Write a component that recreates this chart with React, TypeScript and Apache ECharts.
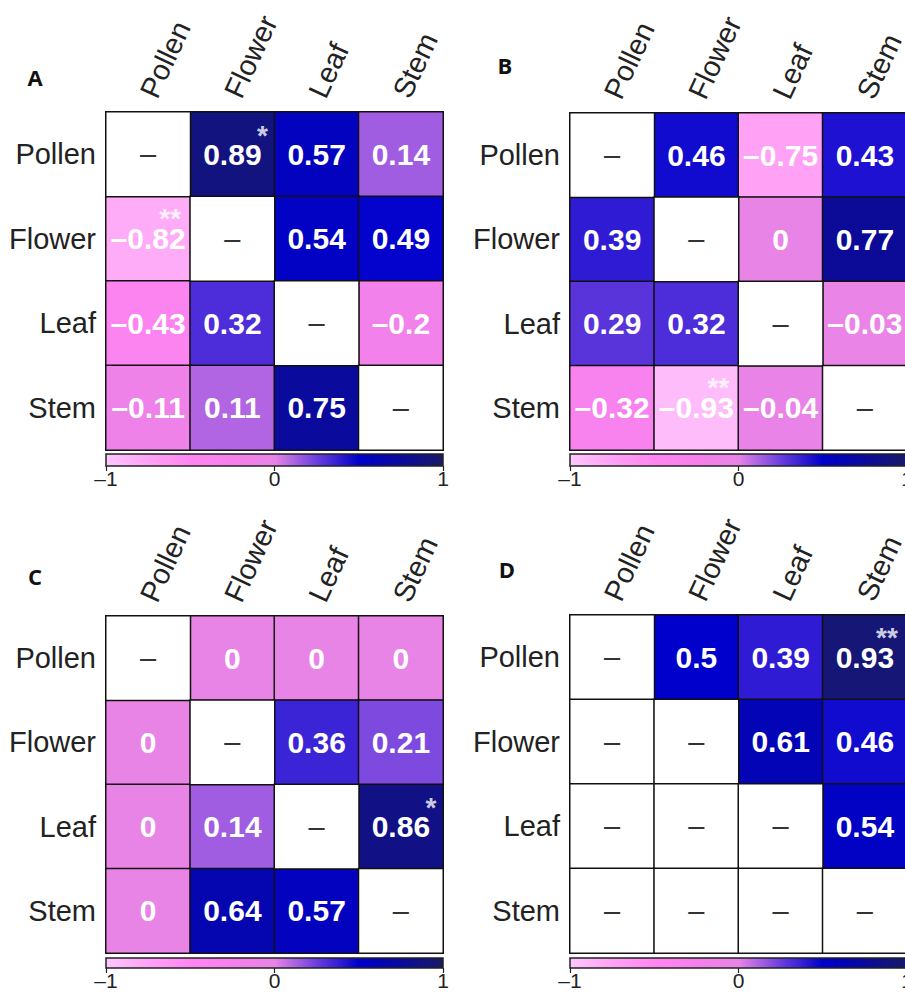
import React, { useEffect, useRef } from "react";
import * as echarts from "echarts";

// Tissues on both axes of every correlation matrix
const TISSUES = ["Pollen", "Flower", "Leaf", "Stem"];

// Correlation matrices, rows = TISSUES (top to bottom), cols = TISSUES (left to right)
// null marks a cell without a coefficient (drawn as a dash)
const VALUES_A = [
  [null, 0.89, 0.57, 0.14],
  [-0.82, null, 0.54, 0.49],
  [-0.43, 0.32, null, -0.2],
  [-0.11, 0.11, 0.75, null],
];
const VALUES_B = [
  [null, 0.46, -0.75, 0.43],
  [0.39, null, 0, 0.77],
  [0.29, 0.32, null, -0.03],
  [-0.32, -0.93, -0.04, null],
];
const VALUES_C = [
  [null, 0, 0, 0],
  [0, null, 0.36, 0.21],
  [0, 0.14, null, 0.86],
  [0, 0.64, 0.57, null],
];
const VALUES_D = [
  [null, 0.5, 0.39, 0.93],
  [null, null, 0.61, 0.46],
  [null, null, null, 0.54],
  [null, null, null, null],
];

// Significance marks: [col, row, mark]
const STARS_A = [
  [1, 0, "*"],
  [0, 1, "**"],
];
const STARS_B = [[1, 3, "**"]];
const STARS_C = [[3, 2, "*"]];
const STARS_D = [[3, 0, "**"]];

// Diverging colour scale from -1 to 1 (evenly spaced stops)
const SCALE_MIN = -1;
const SCALE_MAX = 1;
const PALETTE = [
  "#ffc6fc",
  "#ffa2f6",
  "#ff86f2",
  "#f580ec",
  "#e884e6",
  "#6a3ede",
  "#0000cc",
  "#0a0a9c",
  "#1a1a68",
];
const COLORBAR_TICKS = [-1, 0, 1];

const FONT = "'Liberation Sans', Arial, Helvetica, sans-serif";

const fmtValue = (v: number) => (v < 0 ? "\u2013" + String(Math.abs(v)) : String(v));

type Box = { left: number; top: number; width: number; height: number };
type Panel = {
  letter: string;
  values: (number | null)[][];
  stars: (number | string)[][];
  heat: Box;
  bar: Box;
  letterPos: [number, number];
};

const PANELS: Panel[] = [
  {
    letter: "A",
    values: VALUES_A,
    stars: STARS_A,
    heat: { left: 106, top: 112, width: 337, height: 338 },
    bar: { left: 106, top: 454, width: 337, height: 12 },
    letterPos: [35, 77],
  },
  {
    letter: "B",
    values: VALUES_B,
    stars: STARS_B,
    heat: { left: 570, top: 113, width: 337, height: 337 },
    bar: { left: 570, top: 454, width: 337, height: 12 },
    letterPos: [505, 65],
  },
  {
    letter: "C",
    values: VALUES_C,
    stars: STARS_C,
    heat: { left: 106, top: 616, width: 337, height: 337 },
    bar: { left: 106, top: 958, width: 337, height: 10 },
    letterPos: [35, 576],
  },
  {
    letter: "D",
    values: VALUES_D,
    stars: STARS_D,
    heat: { left: 570, top: 615, width: 337, height: 338 },
    bar: { left: 570, top: 958, width: 337, height: 10 },
    letterPos: [507, 569],
  },
];

function buildOption() {
  const grid: any[] = [];
  const xAxis: any[] = [];
  const yAxis: any[] = [];
  const series: any[] = [];
  const graphic: any[] = [];
  const mainSeries: number[] = [];
  const blankSeries: number[] = [];

  const gradient = {
    type: "linear",
    x: 0,
    y: 0,
    x2: 1,
    y2: 0,
    colorStops: PALETTE.map((c, i) => ({ offset: i / (PALETTE.length - 1), color: c })),
  };

  PANELS.forEach((p, i) => {
    const hg = i * 2;
    const bg = i * 2 + 1;

    grid.push({
      ...p.heat,
      show: true,
      borderColor: "#111",
      borderWidth: 2,
      backgroundColor: "transparent",
      containLabel: false,
      outerBoundsMode: "none",
    });
    grid.push({
      ...p.bar,
      show: true,
      borderColor: "#222",
      borderWidth: 1.5,
      backgroundColor: gradient,
      containLabel: false,
      outerBoundsMode: "none",
    });

    xAxis.push({
      type: "category",
      gridIndex: hg,
      data: TISSUES,
      position: "top",
      axisLine: { show: false },
      axisTick: { show: false },
      splitLine: { show: false },
      axisLabel: {
        interval: 0,
        rotate: -65,
        margin: 16,
        fontSize: 29,
        color: "#222",
        fontFamily: FONT,
      },
    });
    yAxis.push({
      type: "category",
      gridIndex: hg,
      data: TISSUES,
      inverse: true,
      axisLine: { show: false },
      axisTick: { show: false },
      splitLine: { show: false },
      axisLabel: { margin: 10, fontSize: 29, color: "#222", fontFamily: FONT },
    });

    xAxis.push({
      type: "value",
      gridIndex: bg,
      min: SCALE_MIN,
      max: SCALE_MAX,
      interval: 1,
      position: "bottom",
      axisLine: { show: false },
      axisTick: { show: true, length: 5, lineStyle: { color: "#222", width: 1.2 } },
      splitLine: { show: false },
      axisLabel: {
        margin: 2,
        fontSize: 21,
        color: "#222",
        fontFamily: FONT,
        showMinLabel: true,
        showMaxLabel: true,
        formatter: (v: number) => (COLORBAR_TICKS.includes(v) ? fmtValue(v) : ""),
      },
    });
    yAxis.push({ type: "value", gridIndex: bg, min: 0, max: 1, show: false });

    const cells: number[][] = [];
    const blanks: number[][] = [];
    p.values.forEach((row, r) =>
      row.forEach((v, c) => {
        if (v === null) blanks.push([c, r, 0]);
        else cells.push([c, r, v]);
      })
    );

    mainSeries.push(series.length);
    series.push({
      type: "heatmap",
      xAxisIndex: hg,
      yAxisIndex: hg,
      data: cells,
      itemStyle: { borderColor: "#111", borderWidth: 1.5 },
      label: {
        show: true,
        color: "#fff",
        fontWeight: "bold",
        fontSize: 30,
        fontFamily: FONT,
        formatter: (prm: any) => fmtValue(prm.value[2]),
      },
      emphasis: { disabled: true },
    });
    blankSeries.push(series.length);
    series.push({
      type: "heatmap",
      xAxisIndex: hg,
      yAxisIndex: hg,
      data: blanks,
      itemStyle: { borderColor: "#111", borderWidth: 1.5 },
      label: { show: true, color: "#333", fontSize: 29, fontFamily: FONT, formatter: "\u2013" },
      emphasis: { disabled: true },
    });
    // significance marks sit at the upper right of their cell
    series.push({
      type: "scatter",
      xAxisIndex: hg,
      yAxisIndex: hg,
      symbolSize: 1,
      itemStyle: { color: "transparent" },
      data: p.stars.map((s) => ({
        name: s[2],
        value: [s[0], s[1]],
        label: { offset: String(s[2]).length > 1 ? [22, -20] : [30, -19] },
      })),
      label: {
        show: true,
        position: "inside",
        color: "#ffffff",
        fontSize: 28,
        fontWeight: "bold",
        fontFamily: FONT,
        formatter: (prm: any) => prm.name,
      },
      z: 5,
      emphasis: { disabled: true },
    });

    graphic.push({
      type: "text",
      x: p.letterPos[0],
      y: p.letterPos[1],
      style: {
        text: p.letter,
        fontSize: 22,
        fontWeight: "bold",
        fontFamily: "'Open Sans', sans-serif",
        fill: "#111",
        align: "center",
        verticalAlign: "middle",
      },
    });
  });

  return {
    animation: false,
    backgroundColor: "#ffffff",
    textStyle: { fontFamily: FONT },
    grid,
    xAxis,
    yAxis,
    visualMap: [
      {
        type: "continuous",
        show: false,
        min: SCALE_MIN,
        max: SCALE_MAX,
        dimension: 2,
        seriesIndex: mainSeries,
        inRange: { color: PALETTE },
      },
      {
        type: "continuous",
        show: false,
        min: 0,
        max: 1,
        dimension: 2,
        seriesIndex: blankSeries,
        inRange: { color: ["#ffffff", "#ffffff"] },
      },
    ],
    series,
    graphic,
  };
}

export default function App() {
  const ref = useRef<HTMLDivElement>(null);
  useEffect(() => {
    if (!ref.current) return;
    const chart = echarts.init(ref.current, undefined, { renderer: "svg" });
    chart.setOption(buildOption() as any);
    return () => chart.dispose();
  }, []);
  return (
    <div
      ref={ref}
      style={{ position: "fixed", left: 0, top: 0, width: 905, height: 992, background: "#fff" }}
    />
  );
}
